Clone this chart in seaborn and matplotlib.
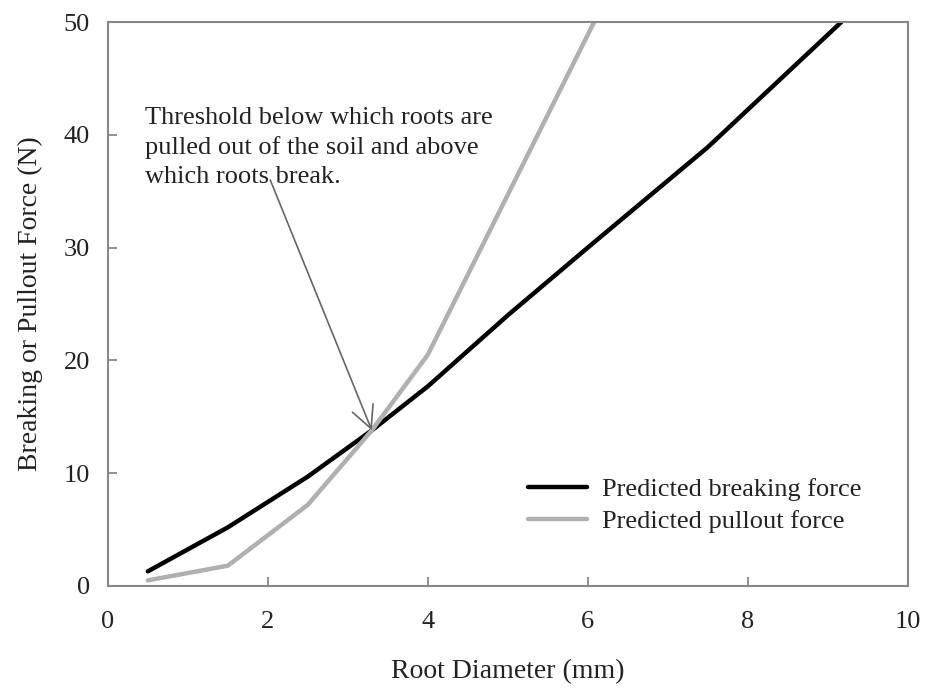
import matplotlib
matplotlib.use("Agg")
import matplotlib.pyplot as plt
import seaborn as sns
import pandas as pd

breaking_x = [0.5, 1.5, 2.5, 3.3, 4.0, 5.0, 6.0, 7.5, 9.17]
breaking_y = [1.3, 5.2, 9.7, 13.8, 17.7, 24.0, 30.0, 38.9, 50.0]
pullout_x = [0.5, 1.5, 2.5, 3.3, 4.0, 6.08]
pullout_y = [0.5, 1.8, 7.2, 13.8, 20.5, 50.0]

df = pd.concat([
    pd.DataFrame({"x": breaking_x, "y": breaking_y, "s": "Predicted breaking force"}),
    pd.DataFrame({"x": pullout_x, "y": pullout_y, "s": "Predicted pullout force"}),
])

sns.set_theme(style="white")
plt.rcParams['font.family'] = ['Liberation Serif', 'DejaVu Serif']

fig = plt.figure(figsize=(9.3, 6.89), dpi=100)
ax = fig.add_axes([0.116, 0.1495, 0.86, 0.8185])
sns.lineplot(data=df, x="x", y="y", hue="s", palette=["#000000", "#b0b0b0"],
             linewidth=3.2, sort=False, estimator=None, ax=ax)
ax.set_xlim(0, 10)
ax.set_ylim(0, 50)
ax.set_xticks([0, 2, 4, 6, 8, 10])
ax.set_yticks([0, 10, 20, 30, 40, 50])
ax.tick_params(bottom=True, left=True, direction="in", length=6.5, width=1.3,
               color="#888888", labelsize=19, labelcolor="#222222")
ax.tick_params(axis="x", pad=18)
ax.tick_params(axis="y", pad=13)
for sp in ax.spines.values():
    sp.set_color("#888888")
    sp.set_linewidth(1.5)
ax.set_xlabel("Root Diameter (mm)", fontsize=20, color="#222222", labelpad=19)
ax.set_ylabel("Breaking or Pullout Force (N)", fontsize=20, color="#222222", labelpad=15)

leg = ax.legend(loc="lower right", bbox_to_anchor=(0.942, 0.094), frameon=False,
                fontsize=19, handlelength=2.25, handletextpad=0.55,
                labelspacing=0.33, borderpad=0, borderaxespad=0)
for t in leg.get_texts():
    t.set_color("#222222")

ax.text(0.46, 38.9,
        "Threshold below which roots are\npulled out of the soil and above\nwhich roots break.",
        fontsize=19, color="#222222", va="center", ha="left", linespacing=1.4)
ax.annotate("", xy=(3.3, 13.8), xytext=(2.03, 36.0),
            arrowprops=dict(arrowstyle="->", color="#666666", lw=1.2,
                            mutation_scale=40, shrinkA=0, shrinkB=0))

fig.savefig("out.png", dpi=100)
